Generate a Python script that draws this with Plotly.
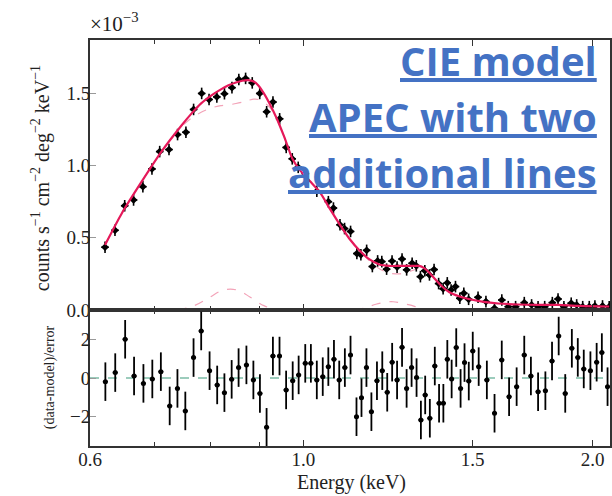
import math
import plotly.graph_objects as go

# ---------------- data (counts in units of 1e-3) ----------------
spec_e = [0.622, 0.637, 0.652, 0.666, 0.681, 0.696, 0.709, 0.725, 0.740, 0.755,
          0.769, 0.784, 0.798, 0.813, 0.828, 0.843, 0.857, 0.871, 0.885, 0.901,
          0.916, 0.930, 0.945, 0.960, 0.974, 0.988, 1.005, 1.033, 1.062, 1.075,
          1.092, 1.104, 1.120, 1.137, 1.148, 1.164, 1.180, 1.195, 1.207, 1.221,
          1.237, 1.252, 1.267, 1.281, 1.298, 1.311, 1.324, 1.338, 1.353, 1.368,
          1.383, 1.398, 1.412, 1.425, 1.440, 1.455, 1.469, 1.486, 1.520, 1.549,
          1.581, 1.609, 1.634, 1.663, 1.698, 1.728, 1.755, 1.783, 1.816, 1.841,
          1.867, 1.900, 1.925, 1.953, 1.984, 2.011, 2.048, 2.081]
spec_v = [0.435, 0.552, 0.722, 0.762, 0.854, 0.977, 1.097, 1.111, 1.215, 1.231,
          1.389, 1.500, 1.458, 1.476, 1.498, 1.540, 1.597, 1.604, 1.573, 1.500,
          1.373, 1.440, 1.324, 1.126, 1.047, 0.988, 0.944, 0.823, 0.750, 0.706,
          0.590, 0.564, 0.544, 0.391, 0.382, 0.413, 0.301, 0.340, 0.335, 0.283,
          0.339, 0.297, 0.353, 0.278, 0.324, 0.306, 0.231, 0.272, 0.243, 0.280,
          0.183, 0.147, 0.188, 0.139, 0.162, 0.081, 0.116, 0.074, 0.088, 0.058,
          0.012, 0.069, 0.023, 0.023, 0.051, 0.035, 0.023, 0.023, 0.051, 0.076,
          0.023, 0.047, 0.035, 0.023, 0.023, 0.028, 0.028, 0.023]

model_e = [0.622, 0.648, 0.679, 0.712, 0.747, 0.765, 0.783, 0.802, 0.821, 0.836,
           0.851, 0.864, 0.876, 0.888, 0.898, 0.910, 0.924, 0.938, 0.956, 0.974,
           0.993, 1.017, 1.041, 1.066, 1.092, 1.118, 1.145, 1.172, 1.200, 1.229,
           1.259, 1.289, 1.320, 1.336, 1.352, 1.371, 1.391, 1.418, 1.452, 1.486,
           1.540, 1.595, 1.673, 1.755, 1.841, 1.931, 2.081]
model_total = [0.451, 0.674, 0.889, 1.097, 1.278, 1.360, 1.431, 1.485, 1.528, 1.556,
               1.576, 1.588, 1.592, 1.582, 1.555, 1.500, 1.420, 1.330, 1.195, 1.050,
               0.965, 0.890, 0.815, 0.700, 0.590, 0.490, 0.410, 0.350, 0.315, 0.305,
               0.305, 0.305, 0.305, 0.290, 0.260, 0.215, 0.170, 0.125, 0.095, 0.076,
               0.056, 0.045, 0.038, 0.035, 0.035, 0.028, 0.024]
model_apec = [0.451, 0.674, 0.889, 1.097, 1.270, 1.330, 1.370, 1.400, 1.415, 1.420,
              1.430, 1.440, 1.452, 1.460, 1.458, 1.440, 1.400, 1.325, 1.195, 1.050,
              0.965, 0.890, 0.815, 0.700, 0.590, 0.490, 0.410, 0.340, 0.285, 0.255,
              0.250, 0.265, 0.290, 0.285, 0.260, 0.215, 0.170, 0.125, 0.095, 0.076,
              0.056, 0.045, 0.038, 0.035, 0.035, 0.028, 0.024]
line1_e = [0.74, 0.77, 0.80, 0.82, 0.84, 0.86, 0.88, 0.91, 0.94]
line1_v = [0.0, 0.03, 0.09, 0.13, 0.145, 0.13, 0.09, 0.03, 0.0]
line2_e = [1.13, 1.16, 1.19, 1.22, 1.24, 1.26, 1.29, 1.32, 1.35]
line2_v = [0.0, 0.015, 0.04, 0.055, 0.057, 0.05, 0.035, 0.015, 0.0]

resid_e = [0.6225, 0.6374, 0.6527, 0.6668, 0.6819, 0.6966, 0.7110, 0.7262, 0.7398, 0.7539,
           0.7689, 0.7831, 0.7990, 0.8137, 0.8279, 0.8424, 0.8565, 0.8727, 0.8874, 0.9014,
           0.9159, 0.9299, 0.9447, 0.9598, 0.9750, 0.9890, 1.0048, 1.0184, 1.0330, 1.0478,
           1.0619, 1.0763, 1.0900, 1.1048, 1.1199, 1.1360, 1.1497, 1.1634, 1.1773, 1.1931,
           1.2084, 1.2228, 1.2373, 1.2520, 1.2670, 1.2809, 1.2963, 1.3118, 1.3255, 1.3392,
           1.3542, 1.3704, 1.3845, 1.3988, 1.4121, 1.4268, 1.4426, 1.4577, 1.4715, 1.4866,
           1.5008, 1.5223, 1.5524, 1.5812, 1.6088, 1.6373, 1.6672, 1.6979, 1.7251, 1.7551,
           1.7860, 1.8147, 1.8438, 1.8730, 1.9029, 1.9302, 1.9580, 1.9894, 2.0194, 2.0447,
           2.0728]
resid_v = [-0.19, 0.28, 2.01, 0.10, -0.28, -0.05, 0.33, -1.45, -0.54, -1.71,
           1.06, 2.44, 0.38, -0.36, -0.76, -0.07, 0.54, 0.68, -0.10, -0.80,
           -2.56, 1.14, 1.14, -0.62, -0.14, 0.16, 0.76, 0.76, -0.10, 0.07,
           0.59, 0.97, -0.10, 0.54, 1.19, -2.01, -1.02, 0.54, -1.75, -0.14,
           0.38, -0.74, 0.82, -0.10, 1.59, -0.54, 0.54, 0.02, -2.18, -0.88,
           -2.09, 0.62, -1.31, -1.31, 0.97, -0.05, 1.58, -0.54, 0.80, -0.16,
           1.40, 0.59, -0.10, -1.83, 0.94, -0.97, -0.45, 1.19, 0.10, -0.71,
           -0.66, 0.88, 2.18, -0.80, 1.54, 1.07, 0.47, 0.38, 0.82, 1.32,
           -0.45]

xtick_vals = [0.6, 1.0, 1.5, 2.0]
xtick_text = ["0.6", "1.0", "1.5", "2.0"]
xminor_vals = [0.7, 0.8, 0.9]
ytick_vals = [0.0, 0.5, 1.0, 1.5]
ytick_text = ["0.0", "0.5", "1.0", "1.5"]
rtick_vals = [-2, 0, 2]
rtick_text = ["\u22122", "0", "2"]

# ---------------- figure ----------------
AX = "#333333"
SERIF = "Liberation Serif"
TXT = "#222222"
RED = "#e5195a"
PINK = "#f3a3b8"

fig = go.Figure()

fig.add_trace(go.Scatter(x=model_e, y=model_apec, mode="lines",
                         line=dict(color=PINK, width=1.2, dash="dash", shape="spline", smoothing=0.6),
                         xaxis="x", yaxis="y", hoverinfo="skip"))
fig.add_trace(go.Scatter(x=line1_e, y=line1_v, mode="lines",
                         line=dict(color=PINK, width=1.2, dash="dash", shape="spline"),
                         xaxis="x", yaxis="y", hoverinfo="skip"))
fig.add_trace(go.Scatter(x=line2_e, y=line2_v, mode="lines",
                         line=dict(color=PINK, width=1.2, dash="dash", shape="spline"),
                         xaxis="x", yaxis="y", hoverinfo="skip"))
fig.add_trace(go.Scatter(x=spec_e, y=spec_v, mode="markers",
                         marker=dict(symbol="diamond", size=6, color="black"),
                         error_y=dict(type="constant", value=0.04, color="black",
                                      thickness=1.6, width=0),
                         error_x=dict(type="percent", value=0.9, color="black",
                                      thickness=1.6, width=0),
                         xaxis="x", yaxis="y"))
fig.add_trace(go.Scatter(x=model_e, y=model_total, mode="lines",
                         line=dict(color=RED, width=2.2, shape="spline", smoothing=0.6),
                         xaxis="x", yaxis="y", hoverinfo="skip"))

# residual panel
fig.add_trace(go.Scatter(x=[0.6, 2.085], y=[0, 0], mode="lines",
                         line=dict(color="#3a9a7a", width=1.2, dash="dash"),
                         xaxis="x2", yaxis="y2", hoverinfo="skip"))
fig.add_trace(go.Scatter(x=resid_e, y=resid_v, mode="markers",
                         marker=dict(symbol="circle", size=5, color="black"),
                         error_y=dict(type="constant", value=1.0, color="black",
                                      thickness=1.8, width=0),
                         error_x=dict(type="percent", value=0.6, color="black",
                                      thickness=1.6, width=0),
                         xaxis="x2", yaxis="y2"))

xrange = [math.log10(0.6), math.log10(2.085)]
common_x = dict(type="log", range=xrange, tickmode="array", tickvals=xtick_vals,
                ticks="inside", ticklen=6, tickwidth=1.2, tickcolor=AX,
                showline=True, linecolor=AX, linewidth=2, mirror="allticks",
                showgrid=False, zeroline=False,
                minor=dict(tickmode="array", tickvals=xminor_vals, ticks="inside",
                           ticklen=4, tickcolor=AX, showgrid=False))

fig.update_layout(
    width=612, height=496,
    margin=dict(l=90, r=0, t=40, b=50),
    paper_bgcolor="white", plot_bgcolor="white",
    showlegend=False,
    font=dict(family=SERIF, size=16, color=TXT),
    xaxis=dict(anchor="y", matches="x2", showticklabels=False, **common_x),
    xaxis2=dict(anchor="y2", ticktext=xtick_text, showticklabels=True,
                ticklabelstandoff=-5,
                tickfont=dict(family=SERIF, size=19, color=TXT), **common_x),
    yaxis=dict(domain=[0.335, 1.0], anchor="x", range=[0, 1.87],
               tickmode="array", tickvals=ytick_vals, ticktext=ytick_text,
               ticks="inside", ticklen=6, tickcolor="#999999",
               ticklabelstandoff=-6,
               showline=True, linecolor=AX, linewidth=2, mirror=True,
               showgrid=False, zeroline=False,
               tickfont=dict(family=SERIF, size=19, color=TXT)),
    yaxis2=dict(domain=[0.0, 0.335], anchor="x2", range=[-3.53, 3.53],
                tickmode="array", tickvals=rtick_vals, ticktext=rtick_text,
                ticks="inside", ticklen=6, tickcolor="#999999",
                ticklabelstandoff=-6,
                showline=True, linecolor=AX, linewidth=2, mirror=True,
                showgrid=False, zeroline=False,
                tickfont=dict(family=SERIF, size=19, color=TXT)),
)

W, H = 522.0, 406.0
def px(xp):
    return (xp - 90) / W
def py(yp):
    return (446 - yp) / H

annots = [
    dict(text="\u00d710<sup>\u22123</sup>", x=px(88), y=py(38), xanchor="left",
         yanchor="bottom", font=dict(family=SERIF, size=21, color=TXT)),
    dict(text="counts s<sup>\u22121</sup> cm<sup>\u22122</sup> deg<sup>\u22122</sup> keV<sup>\u22121</sup>",
         x=px(40), y=py(178), textangle=-90, xanchor="center", yanchor="middle",
         font=dict(family=SERIF, size=20, color=TXT)),
    dict(text="(data-model)/error", x=px(50), y=py(377), textangle=-90,
         xanchor="center", yanchor="middle",
         font=dict(family=SERIF, size=14, color=TXT)),
    dict(text="Energy (keV)", x=px(353), y=py(482), xanchor="center", yanchor="middle",
         font=dict(family=SERIF, size=20, color=TXT)),
]
for txt, yc in [("CIE model", 60), ("APEC with two", 116), ("additional lines", 172)]:
    annots.append(dict(text="<b><u>" + txt + "</u></b>", x=px(601), y=py(yc),
                       xanchor="right", yanchor="middle",
                       font=dict(family="Open Sans", size=40, color="#4472c4")))
for a in annots:
    a.update(xref="paper", yref="paper", showarrow=False)
fig.update_layout(annotations=annots)

fig.write_html("out.html")
